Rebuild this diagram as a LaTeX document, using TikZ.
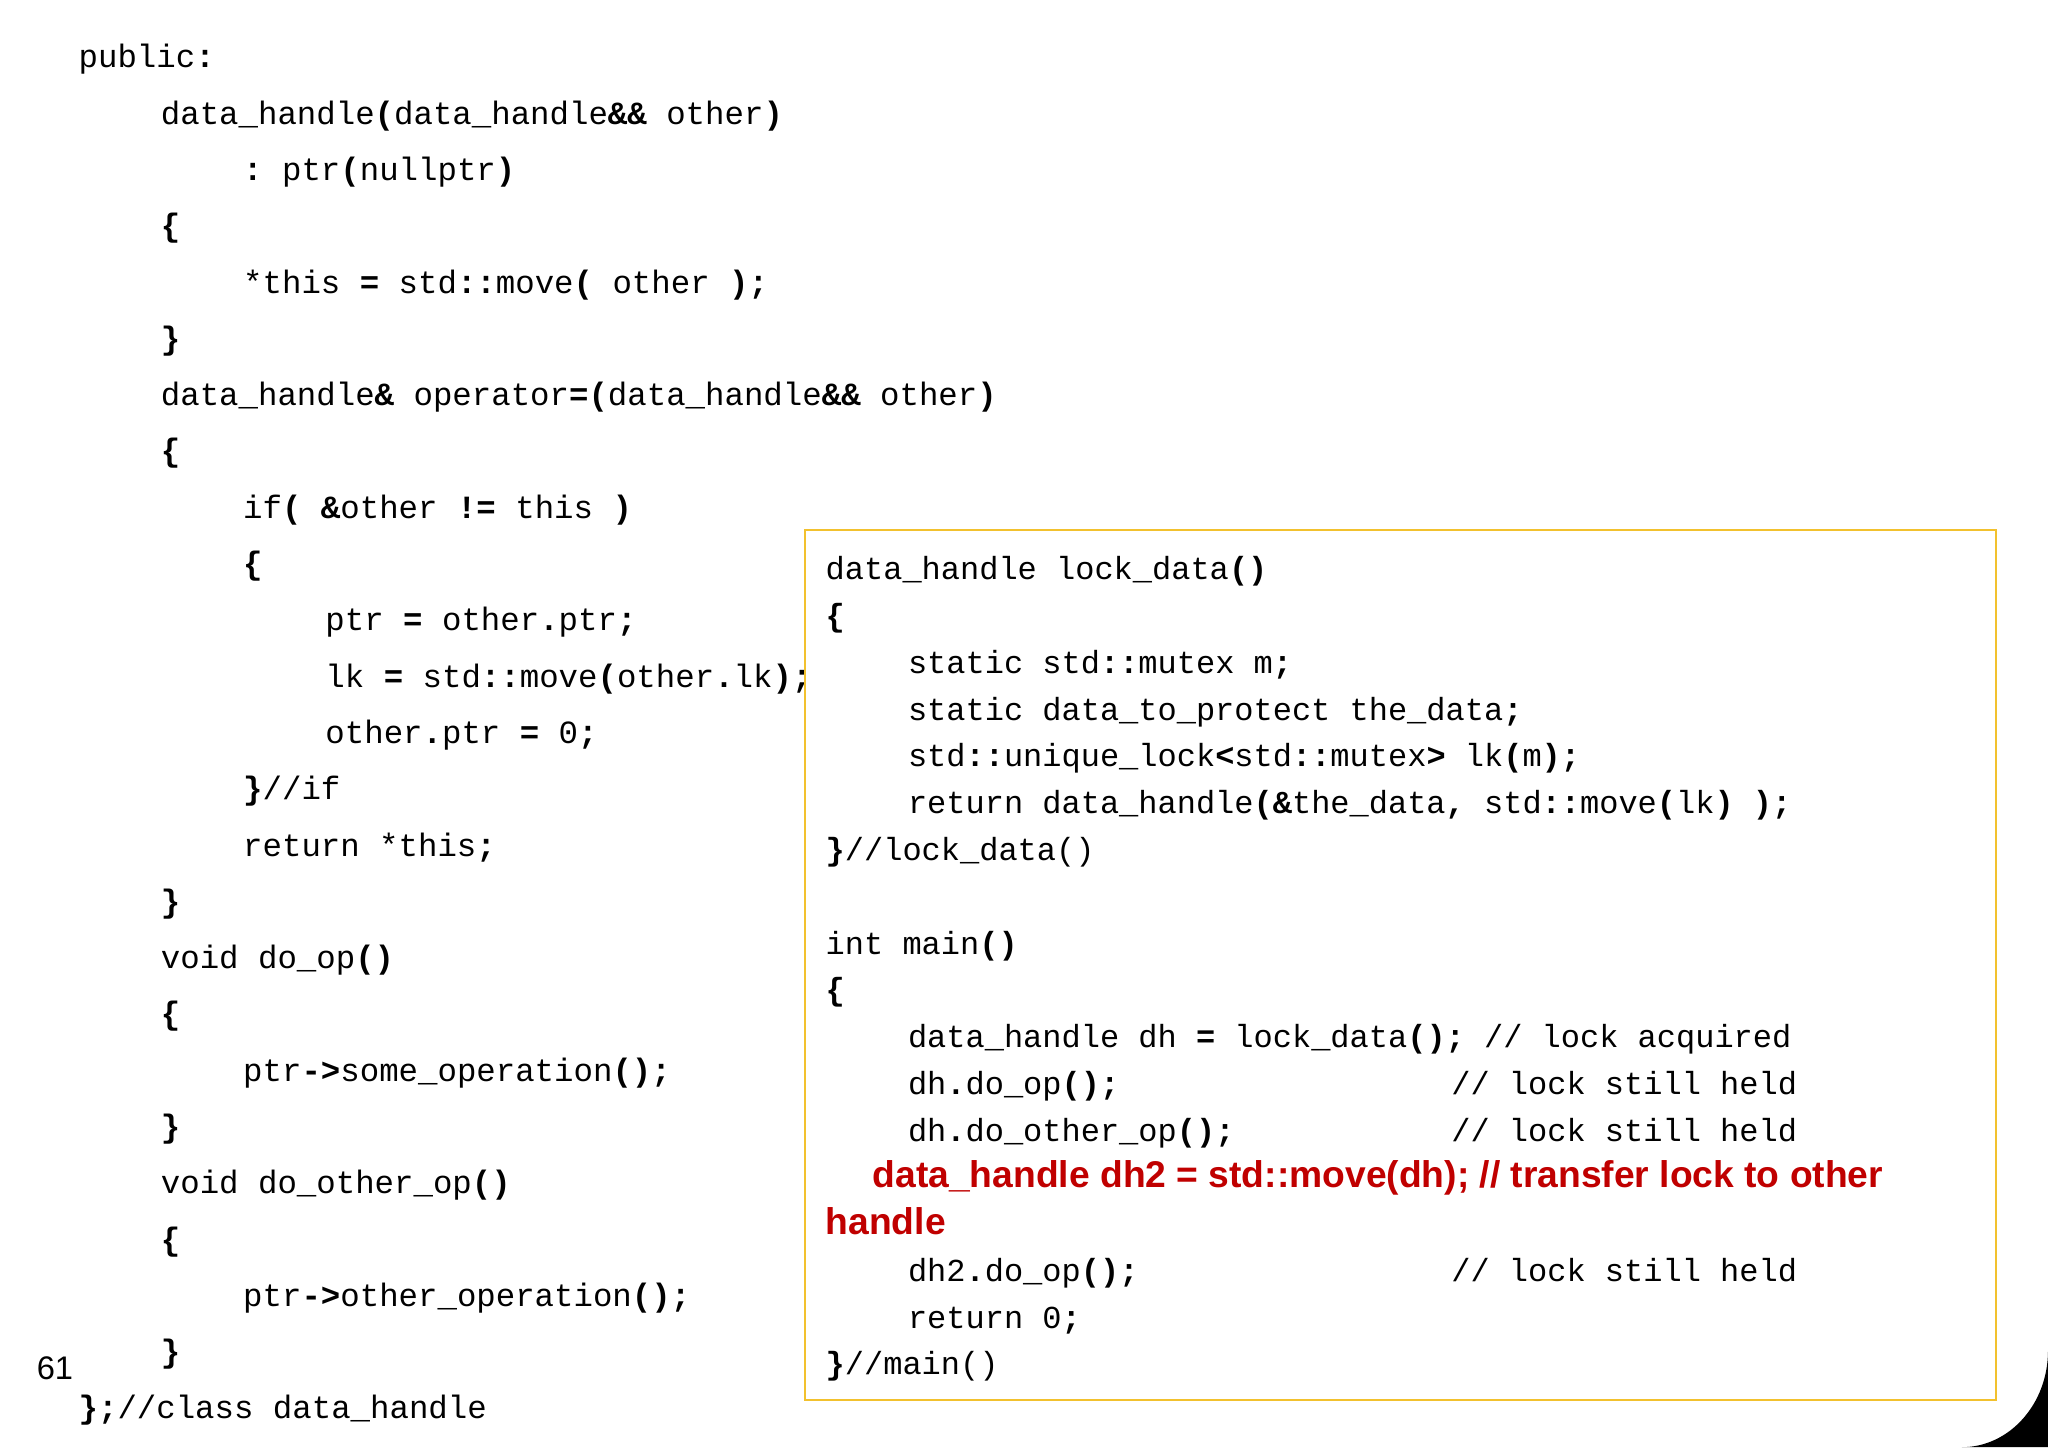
\documentclass[tikz,border=0pt]{standalone}
\usepackage{fontspec}
\setmainfont{Liberation Sans}
\setmonofont{Liberation Mono}
\definecolor{boxyellow}{HTML}{F2C12E}
\definecolor{redtxt}{HTML}{C00000}
\newcommand{\Bx}[1]{\textbf{#1}}
\begin{document}
\begin{tikzpicture}[x=1pt,y=-1pt,
  L/.style={anchor=base west,inner sep=0pt,font=\ttfamily\fontsize{24.8}{30}\selectfont},
  R/.style={anchor=base west,inner sep=0pt,font=\ttfamily\fontsize{24.5}{30}\selectfont},
  RED/.style={anchor=base west,inner sep=0pt,text=redtxt,font=\bfseries\fontsize{28.5}{30}\selectfont}]
\useasboundingbox (0,0) rectangle (1568,1108);
\fill[white] (0,0) rectangle (1568,1108);
\def\yy#1{#1*43.1+52}
\node[L] (l1) at (60,{\yy{0}}) {public\Bx{:}};
\node[L] (l2) at (123,{\yy{1}}) {data\_handle\Bx{(}data\_handle\Bx{\&\&} other\Bx{)}};
\node[L] (l3) at (186,{\yy{2}}) {\Bx{:} ptr\Bx{(}nullptr\Bx{)}};
\node[L] (l4) at (123,{\yy{3}}) {\Bx{\{}};
\node[L] (l5) at (186,{\yy{4}}) {*this \Bx{=} std\Bx{::}move\Bx{(} other \Bx{);}};
\node[L] (l6) at (123,{\yy{5}}) {\Bx{\}}};
\node[L] (l7) at (123,{\yy{6}}) {data\_handle\Bx{\&} operator\Bx{=(}data\_handle\Bx{\&\&} other\Bx{)}};
\node[L] (l8) at (123,{\yy{7}}) {\Bx{\{}};
\node[L] (l9) at (186,{\yy{8}}) {if\Bx{(} \Bx{\&}other \Bx{!=} this \Bx{)}};
\node[L] (l10) at (186,{\yy{9}}) {\Bx{\{}};
\node[L] (l11) at (249,{\yy{10}}) {ptr \Bx{=} other\Bx{.}ptr\Bx{;}};
\node[L] (l12) at (249,{\yy{11}}) {lk \Bx{=} std\Bx{::}move\Bx{(}other\Bx{.}lk\Bx{);}};
\node[L] (l13) at (249,{\yy{12}}) {other\Bx{.}ptr \Bx{=} 0\Bx{;}};
\node[L] (l14) at (186,{\yy{13}}) {\Bx{\}}//if};
\node[L] (l15) at (186,{\yy{14}}) {return *this\Bx{;}};
\node[L] (l16) at (123,{\yy{15}}) {\Bx{\}}};
\node[L] (l17) at (123,{\yy{16}}) {void do\_op\Bx{()}};
\node[L] (l18) at (123,{\yy{17}}) {\Bx{\{}};
\node[L] (l19) at (186,{\yy{18}}) {ptr\Bx{->}some\_operation\Bx{();}};
\node[L] (l20) at (123,{\yy{19}}) {\Bx{\}}};
\node[L] (l21) at (123,{\yy{20}}) {void do\_other\_op\Bx{()}};
\node[L] (l22) at (123,{\yy{21}}) {\Bx{\{}};
\node[L] (l23) at (186,{\yy{22}}) {ptr\Bx{->}other\_operation\Bx{();}};
\node[L] (l24) at (123,{\yy{23}}) {\Bx{\}}};
\node[L] (l25) at (60,{\yy{24}}) {\Bx{\};}//class data\_handle};
\node[anchor=base west,inner sep=0pt,font=\fontsize{25}{30}\selectfont] (pg) at (28,1056) {61};
% box
\fill[white] (616,406) rectangle (1528,1072);
\draw[boxyellow,line width=1.6pt] (616,406) rectangle (1528,1072);
\def\ry#1{#1*35.8+444}
\node[R] (r1) at (632,{\ry{0}}) {data\_handle lock\_data\Bx{()}};
\node[R] (r2) at (632,{\ry{1}}) {\Bx{\{}};
\node[R] (r3) at (695,{\ry{2}}) {static std\Bx{::}mutex m\Bx{;}};
\node[R] (r4) at (695,{\ry{3}}) {static data\_to\_protect the\_data\Bx{;}};
\node[R] (r5) at (695,{\ry{4}}) {std\Bx{::}unique\_lock\Bx{<}std\Bx{::}mutex\Bx{>} lk\Bx{(}m\Bx{);}};
\node[R] (r6) at (695,{\ry{5}}) {return data\_handle\Bx{(\&}the\_data\Bx{,} std\Bx{::}move\Bx{(}lk\Bx{) );}};
\node[R] (r7) at (632,{\ry{6}}) {\Bx{\}}//lock\_data()};
\node[R] (r8) at (632,{\ry{8}}) {int main\Bx{()}};
\node[R] (r9) at (632,{\ry{9}}) {\Bx{\{}};
\node[R] (r10) at (695,{\ry{10}}) {data\_handle dh \Bx{=} lock\_data\Bx{();} // lock acquired};
\node[R] (r11) at (695,{\ry{11}}) {dh\Bx{.}do\_op\Bx{();}};
\node[R] (r11c) at (1111,{\ry{11}}) {// lock still held};
\node[R] (r12) at (695,{\ry{12}}) {dh\Bx{.}do\_other\_op\Bx{();}};
\node[R] (r12c) at (1111,{\ry{12}}) {// lock still held};
\node[RED] (r13) at (668,{\ry{13}}) {data\_handle dh2 = std::move(dh); // transfer lock to other};
\node[RED] (r14) at (632,{\ry{14}}) {handle};
\node[R] (r15) at (695,{\ry{15}}) {dh2\Bx{.}do\_op\Bx{();}};
\node[R] (r15c) at (1111,{\ry{15}}) {// lock still held};
\node[R] (r16) at (695,{\ry{16}}) {return 0\Bx{;}};
\node[R] (r17) at (632,{\ry{17}}) {\Bx{\}}//main()};
% corner
\fill[black] (1568,1034) arc[start angle=0,end angle=90,x radius=66,y radius=74] -- (1568,1108) -- cycle;
\end{tikzpicture}
\end{document}
